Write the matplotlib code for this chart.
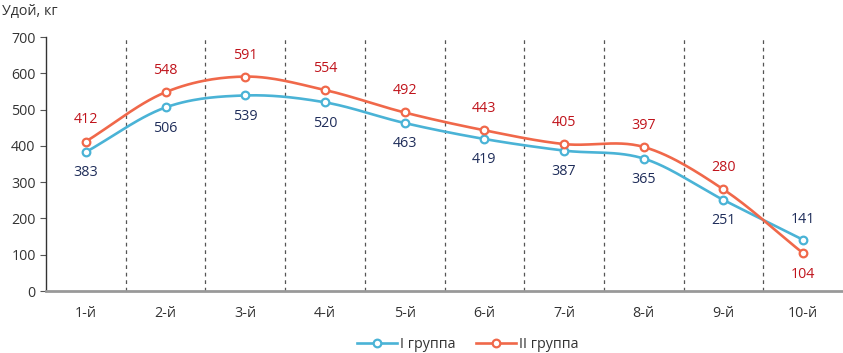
import numpy as np
import matplotlib.pyplot as plt
from matplotlib.lines import Line2D

categories = ["1-й", "2-й", "3-й", "4-й", "5-й", "6-й", "7-й", "8-й", "9-й", "10-й"]
group1 = [383, 506, 539, 520, 463, 419, 387, 365, 251, 141]
group2 = [412, 548, 591, 554, 492, 443, 405, 397, 280, 104]

blue = "#4ab3d6"
orange = "#f0684a"
navy = "#1f2d5a"
red = "#c0141c"

plt.rcParams['font.family'] = ['Open Sans', 'DejaVu Sans']
fs = 10.3


def smooth(x, y, n=30):
    # Catmull-Rom style smoothing, like the "smoothed line" option in spreadsheets
    x = np.asarray(x, float)
    y = np.asarray(y, float)
    px = np.concatenate([[2 * x[0] - x[1]], x, [2 * x[-1] - x[-2]]])
    py = np.concatenate([[2 * y[0] - y[1]], y, [2 * y[-1] - y[-2]]])
    xs, ys = [], []
    t = np.linspace(0, 1, n)
    for i in range(1, len(px) - 2):
        for arr, out in ((px, xs), (py, ys)):
            p0, p1, p2, p3 = arr[i - 1], arr[i], arr[i + 1], arr[i + 2]
            out.extend(0.5 * ((2 * p1) + (-p0 + p2) * t
                              + (2 * p0 - 5 * p1 + 4 * p2 - p3) * t ** 2
                              + (-p0 + 3 * p1 - 3 * p2 + p3) * t ** 3))
    return np.array(xs), np.array(ys)


fig = plt.figure(figsize=(8.43, 3.53), dpi=100)
ax = fig.add_axes([0.0546, 0.1756, 0.9454, 0.7195])

x = np.arange(len(categories))

for xv, yv, c in ((x, group1, blue), (x, group2, orange)):
    sx, sy = smooth(xv, yv)
    ax.plot(sx, sy, color=c, linewidth=1.9, zorder=3)
    ax.plot(xv, yv, linestyle="none", marker="o", markersize=5.5,
            markerfacecolor="white", markeredgecolor=c, markeredgewidth=1.6, zorder=4)

for i in range(len(categories)):
    below1 = group1[i] < group2[i]
    ax.annotate(str(group1[i]), (x[i], group1[i]),
                xytext=(0, -15 if below1 else 15), textcoords="offset points",
                ha="center", va="center", fontsize=fs, color=navy)
    ax.annotate(str(group2[i]), (x[i], group2[i]),
                xytext=(0, 15.5 if below1 else -15), textcoords="offset points",
                ha="center", va="center", fontsize=fs, color=red)

for k in range(1, len(categories)):
    ax.axvline(k - 0.5, color="#555555", linestyle=(0, (3, 3)), linewidth=0.9, zorder=1)

ax.set_xlim(-0.5, len(categories) - 0.5)
ax.set_ylim(0, 700)
ax.set_yticks(range(0, 701, 100))
ax.set_xticks(x)
ax.set_xticklabels(categories)
ax.tick_params(axis="x", length=0, pad=11, labelsize=fs, colors="#333333")
ax.tick_params(axis="y", length=4, direction="out", labelsize=fs, colors="#333333")
ax.tick_params(axis="y", color="#555555")

for s in ("top", "right"):
    ax.spines[s].set_visible(False)
ax.spines["left"].set_color("#333333")
ax.spines["left"].set_linewidth(1)
ax.spines["bottom"].set_color("#999999")
ax.spines["bottom"].set_linewidth(2)

fig.text(0.002, 0.99, "Удой, кг", ha="left", va="top", fontsize=fs, color="#333333")

handles = [
    Line2D([0], [0], color=blue, linewidth=1.9, marker="o", markersize=5.5,
           markerfacecolor="white", markeredgecolor=blue, markeredgewidth=1.6),
    Line2D([0], [0], color=orange, linewidth=1.9, marker="o", markersize=5.5,
           markerfacecolor="white", markeredgecolor=orange, markeredgewidth=1.6),
]
fig.legend(handles, ["I группа", "II группа"], loc="center", bbox_to_anchor=(0.555, 0.025),
           ncol=2, frameon=False, fontsize=fs, handlelength=2.8, columnspacing=1.4,
           handletextpad=0.2, labelcolor="#333333")

fig.savefig("out.png", dpi=100)
